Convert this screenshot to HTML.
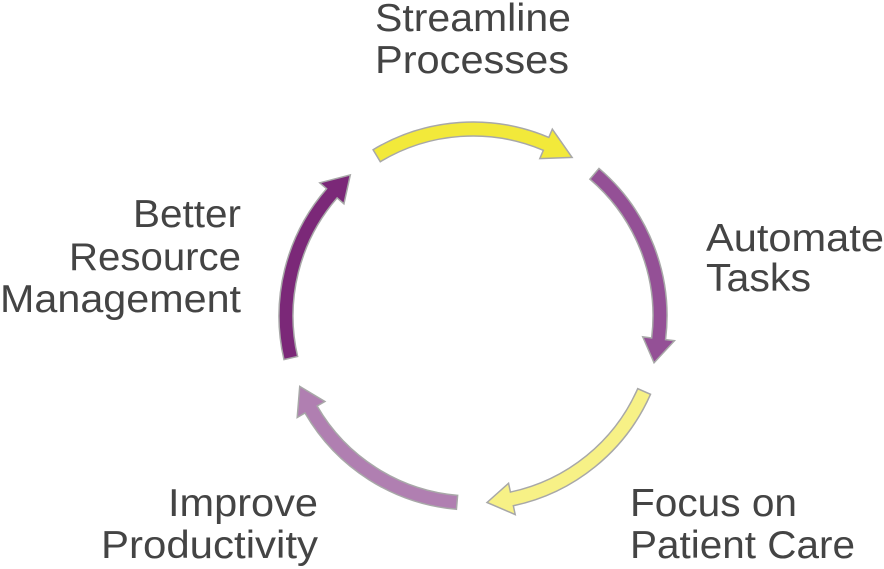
<!DOCTYPE html>
<html><head><meta charset="utf-8"><style>
html,body{margin:0;padding:0;background:#fff;}
svg{display:block;}
text{font-family:"Liberation Sans",sans-serif;font-size:39px;fill:#444;}
</style></head><body>
<svg id="s" width="884" height="569" viewBox="0 0 884 569" xmlns="http://www.w3.org/2000/svg">
<g id="arrows"></g>
<text x="375" y="31" textLength="196" lengthAdjust="spacingAndGlyphs">Streamline</text>
<text x="375" y="73" textLength="194" lengthAdjust="spacingAndGlyphs">Processes</text>
<text x="706" y="251" textLength="178" lengthAdjust="spacingAndGlyphs">Automate</text>
<text x="706" y="291" textLength="105" lengthAdjust="spacingAndGlyphs">Tasks</text>
<text x="133" y="227" textLength="108" lengthAdjust="spacingAndGlyphs">Better</text>
<text x="69" y="270" textLength="172" lengthAdjust="spacingAndGlyphs">Resource</text>
<text x="0" y="312" textLength="241" lengthAdjust="spacingAndGlyphs">Management</text>
<text x="630" y="516" textLength="167" lengthAdjust="spacingAndGlyphs">Focus on</text>
<text x="630" y="558" textLength="225" lengthAdjust="spacingAndGlyphs">Patient Care</text>
<text x="168" y="516" textLength="150" lengthAdjust="spacingAndGlyphs">Improve</text>
<text x="101" y="558" textLength="217" lengthAdjust="spacingAndGlyphs">Productivity</text>
</svg>
<script>
var cx=473,cy=316,r=187,w=7,hw=16;
var A=[[-121,-67,-58,"#f2e93a"],[-49.5,7,14.5,"#945096"],[23.8,78,85.7,"#f7f186"],[94.9,150,157.9,"#b07fb1"],[167,221,229,"#7b2878"]];
function p(a,rr){a=a*Math.PI/180;return [cx+rr*Math.cos(a),cy+rr*Math.sin(a)];}
var g="";
A.forEach(function(t){
 var a0=t[0],a1=t[1],a2=t[2];
 var o0=p(a0,r+w),o1=p(a1,r+w),i1=p(a1,r-w),i0=p(a0,r-w),h0=p(a1,r+hw),h1=p(a1,r-hw),tp=p(a2,r);
 var d="M"+o0+" A"+(r+w)+" "+(r+w)+" 0 0 1 "+o1+" L"+h0+" L"+tp+" L"+h1+" L"+i1+" A"+(r-w)+" "+(r-w)+" 0 0 0 "+i0+" Z";
 g+='<path d="'+d+'" fill="'+t[3]+'" stroke="#a8a8a8" stroke-width="1.5" stroke-linejoin="miter"/>';
});
document.getElementById("arrows").innerHTML=g;
</script>
</body></html>
